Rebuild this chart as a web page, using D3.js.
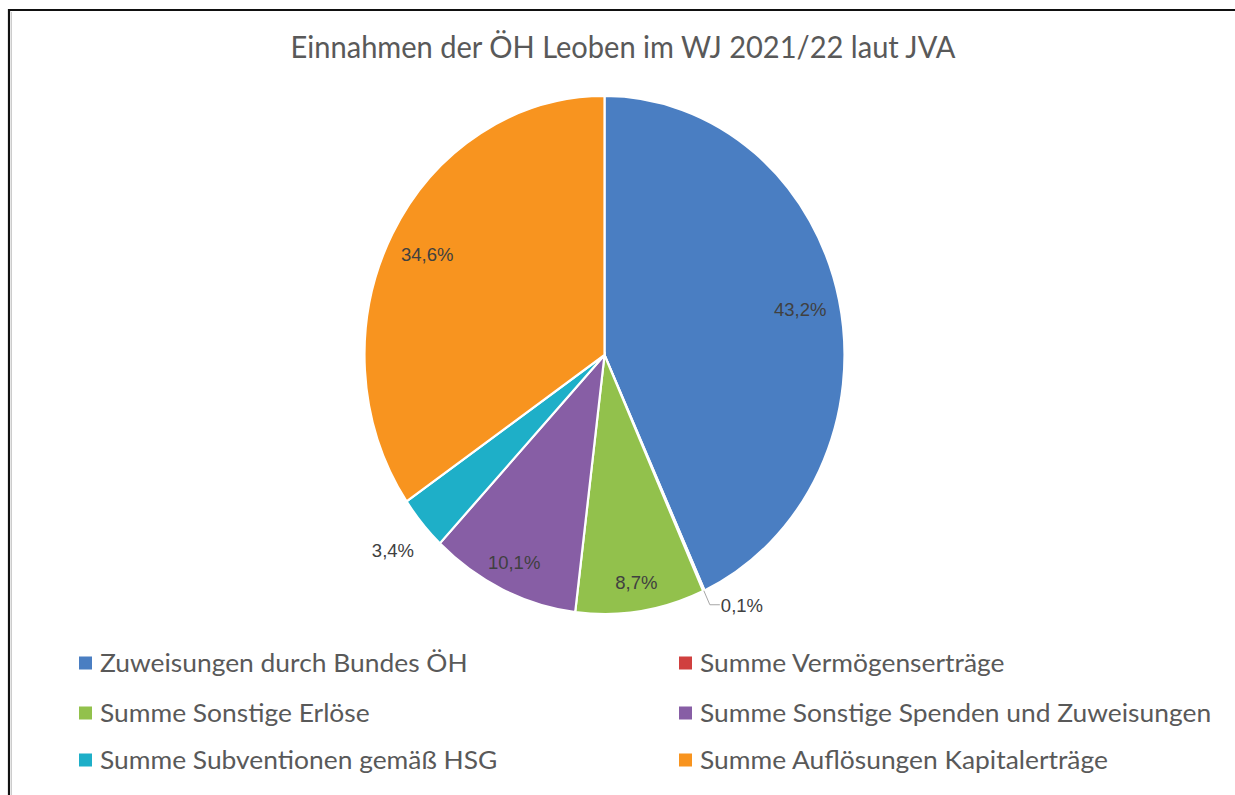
<!DOCTYPE html>
<html>
<head>
<meta charset="utf-8">
<script src="https://cdn.jsdelivr.net/npm/d3@7"></script>
<style>
  html, body { margin: 0; padding: 0; background: #fff; }
  svg { display: block; }
</style>
</head>
<body>
<svg id="chart" width="1235" height="795"></svg>
<script>
const title = "Einnahmen der ÖH Leoben im WJ 2021/22 laut JVA";
const categories = [
  "Zuweisungen durch Bundes ÖH",
  "Summe Vermögenserträge",
  "Summe Sonstige Erlöse",
  "Summe Sonstige Spenden und Zuweisungen",
  "Summe Subventionen gemäß HSG",
  "Summe Auflösungen Kapitalerträge"
];
const values = [43.2, 0.1, 8.7, 10.1, 3.4, 34.6];
const valueLabels = ["43,2%", "0,1%", "8,7%", "10,1%", "3,4%", "34,6%"];
const colors = ["#4a7ec2", "#d0403f", "#92c14c", "#875ea5", "#1eafc8", "#f8941f"];

const svg = d3.select("#chart");

// frame (left and top border)
svg.append("path")
  .attr("d", "M9,795 L9,10 L1235,10")
  .attr("fill", "none").attr("stroke", "#111").attr("stroke-width", 2.2);
svg.append("line").attr("x1", 11.5).attr("x2", 11.5).attr("y1", 12).attr("y2", 795)
  .attr("stroke", "#ccc").attr("stroke-width", 1);

// title
svg.append("text")
  .attr("transform", "translate(623,58) scale(1.02,1.1)")
  .attr("text-anchor", "middle")
  .attr("font-family", "Lato, 'Open Sans', sans-serif")
  .attr("font-size", 28.5)
  .attr("fill", "#595959")
  .text(title);

// pie
const cx = 604.5, cy = 355, rx = 240, ry = 259;
const pie = d3.pie().sort(null).value(d => d);
const arcs = pie(values);
const arc = d3.arc().innerRadius(0).outerRadius(rx);

const g = svg.append("g")
  .attr("transform", `translate(${cx},${cy}) scale(1,${ry / rx})`);
g.selectAll("path")
  .data(arcs)
  .join("path")
  .attr("d", arc)
  .attr("fill", (d, i) => colors[i])
  .attr("stroke", "#fff")
  .attr("stroke-width", 2.2)
  .attr("vector-effect", "non-scaling-stroke");

// data labels
const pt = (a, f) => [cx + Math.sin(a) * rx * f, cy - Math.cos(a) * ry * f];
const lbl = svg.append("g")
  .attr("font-family", "'Liberation Sans', Arial, sans-serif")
  .attr("font-size", 18.5)
  .attr("fill", "#404040");

arcs.forEach((d, i) => {
  const a = (d.startAngle + d.endAngle) / 2;
  if (d.value < 1) {
    const p0 = pt(a, 1.0);
    const p1 = [p0[0] + 6, p0[1] + 14];
    const p2 = [p1[0] + 10, p1[1]];
    svg.append("path")
      .attr("d", `M${p0[0]},${p0[1]} L${p1[0]},${p1[1]} L${p2[0]},${p2[1]}`)
      .attr("fill", "none").attr("stroke", "#a6a6a6").attr("stroke-width", 1);
    lbl.append("text")
      .attr("x", p2[0] + 1).attr("y", p2[1] + 7)
      .text(valueLabels[i]);
  } else if (d.value < 5) {
    const p = pt(a, 1.16);
    lbl.append("text")
      .attr("x", p[0]).attr("y", p[1] + 7)
      .attr("text-anchor", "middle")
      .text(valueLabels[i]);
  } else {
    const f = d.value > 20 ? 0.835 : 0.885;
    const p = pt(a, f);
    lbl.append("text")
      .attr("x", p[0]).attr("y", p[1] + 7)
      .attr("text-anchor", "middle")
      .text(valueLabels[i]);
  }
});

// legend
const legend = svg.append("g")
  .attr("font-family", "Lato, 'Open Sans', sans-serif")
  .attr("font-size", 24)
  .attr("fill", "#595959");
const colX = [79, 679], rowY = [663, 713, 760];
categories.forEach((c, i) => {
  const x = colX[i % 2], y = rowY[Math.floor(i / 2)];
  const item = legend.append("g");
  item.append("rect")
    .attr("x", x).attr("y", y - 6.5)
    .attr("width", 13).attr("height", 13)
    .attr("fill", colors[i]);
  item.append("text")
    .attr("transform", `translate(${x + 21},${y + 8.5}) scale(1.1,1.03)`)
    .text(c);
});
</script>
</body>
</html>
